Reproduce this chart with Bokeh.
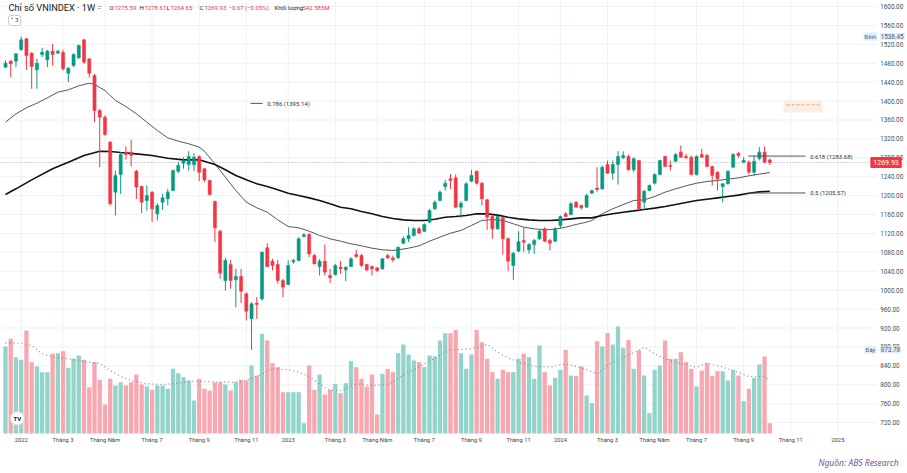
import pandas as pd
from bokeh.plotting import figure
from bokeh.models import Range1d, Label, ColumnDataSource, BoxAnnotation
from bokeh.core.properties import value
from bokeh.embed import file_html
from bokeh.resources import INLINE

# ---------------- data ----------------
FIRST_BAR = "2021-12-13"   # weekly bars, Monday dates
N_BARS = 147

opens = [1471.7, 1484.4, 1484.4, 1508.4, 1531.6, 1501.3, 1466.0, 1498.5, 1487.2, 1505.5,
         1501.3, 1502.7, 1459.0, 1475.2, 1491.4, 1529.5, 1489.3, 1454.1, 1380.0, 1366.0,
         1313.0, 1207.3, 1244.7, 1292.0, 1292.0, 1251.7, 1219.3, 1189.7, 1207.3, 1161.5,
         1186.2, 1193.2, 1210.8, 1251.7, 1268.7, 1265.8, 1265.8, 1282.8, 1256.7, 1232.0,
         1187.6, 1124.8, 1020.5, 1054.4, 1022.0, 1029.0, 992.3, 939.4, 972.6, 981.7,
         1089.6, 1061.4, 1054.4, 1020.5, 1012.0, 1060.0, 1062.8, 1113.6, 1117.8, 1073.4,
         1050.1, 1061.4, 1031.1, 1033.2, 1048.7, 1043.0, 1050.1, 1075.5, 1073.4, 1054.4,
         1050.1, 1047.3, 1045.2, 1073.4, 1068.4, 1068.4, 1099.5, 1108.6, 1115.7, 1129.8,
         1124.8, 1143.9, 1172.0, 1189.7, 1219.3, 1235.5, 1237.6, 1175.6, 1189.7, 1230.6,
         1251.7, 1226.3, 1191.1, 1155.8, 1129.8, 1153.0, 1108.6, 1052.2, 1082.5, 1105.1,
         1085.4, 1096.6, 1108.6, 1129.8, 1105.1, 1103.7, 1136.8, 1161.5, 1160.1, 1186.2,
         1179.1, 1175.6, 1205.2, 1216.0, 1214.4, 1265.8, 1247.5, 1265.8, 1280.0, 1282.8,
         1254.6, 1274.3, 1186.2, 1210.8, 1226.3, 1244.7, 1282.8, 1263.7, 1272.9, 1292.0,
         1282.8, 1281.4, 1244.7, 1287.0, 1284.9, 1261.6, 1249.6, 1219.3, 1225.0, 1260.2,
         1289.8, 1270.8, 1270.8, 1249.6, 1278.5, 1292.0, 1275.59]
highs = [1485.8, 1487.0, 1501.4, 1536.45, 1533.0, 1503.4, 1489.3, 1512.6, 1508.4, 1521.0,
         1508.4, 1508.4, 1471.7, 1501.3, 1519.6, 1531.0, 1490.0, 1457.6, 1383.6, 1369.5,
         1315.2, 1253.0, 1292.0, 1304.0, 1318.0, 1254.6, 1221.4, 1221.4, 1209.4, 1184.0,
         1203.8, 1214.4, 1254.6, 1271.0, 1281.4, 1294.0, 1290.0, 1285.0, 1258.8, 1233.4,
         1189.7, 1127.7, 1068.4, 1064.2, 1045.2, 1045.2, 995.8, 974.7, 985.3, 1081.8,
         1099.5, 1066.3, 1064.2, 1024.0, 1062.8, 1066.3, 1112.2, 1120.6, 1120.6, 1076.9,
         1066.3, 1096.6, 1045.2, 1055.8, 1061.4, 1050.1, 1069.9, 1085.4, 1076.9, 1055.8,
         1052.2, 1048.7, 1068.4, 1076.9, 1073.4, 1092.4, 1113.6, 1133.3, 1133.3, 1133.3,
         1141.8, 1172.0, 1189.7, 1210.8, 1233.4, 1246.1, 1244.7, 1188.3, 1228.5, 1254.6,
         1253.0, 1228.5, 1193.2, 1158.0, 1158.0, 1155.8, 1112.2, 1080.4, 1124.8, 1133.3,
         1099.5, 1108.6, 1127.7, 1133.3, 1108.6, 1133.3, 1158.0, 1165.0, 1186.2, 1188.3,
         1181.2, 1203.8, 1212.2, 1260.0, 1263.7, 1274.3, 1274.3, 1294.0, 1294.0, 1287.0,
         1281.4, 1275.7, 1212.2, 1223.5, 1247.5, 1275.7, 1284.9, 1274.3, 1289.8, 1306.0,
         1288.4, 1284.9, 1284.9, 1299.0, 1288.4, 1263.7, 1251.7, 1226.3, 1253.0, 1289.8,
         1292.0, 1281.4, 1274.3, 1284.9, 1302.5, 1304.0, 1278.61]
lows = [1470.3, 1450.0, 1471.7, 1507.0, 1466.0, 1425.9, 1425.9, 1492.9, 1471.7, 1475.2,
        1500.0, 1464.7, 1440.0, 1471.7, 1489.3, 1478.8, 1450.0, 1355.4, 1260.2, 1327.0,
        1179.0, 1158.0, 1203.8, 1275.8, 1261.6, 1193.0, 1163.0, 1168.5, 1144.0, 1147.4,
        1170.0, 1179.1, 1209.4, 1247.5, 1256.7, 1253.0, 1251.7, 1230.6, 1228.5, 1200.3,
        1101.6, 1024.0, 999.4, 1003.0, 964.1, 972.6, 936.0, 873.78, 939.4, 978.2,
        1048.7, 1041.7, 1013.5, 985.3, 1010.0, 1055.8, 1061.4, 1112.2, 1070.0, 1054.4,
        1031.1, 1031.1, 1014.9, 1031.1, 1034.6, 1019.0, 1048.7, 1068.4, 1048.7, 1040.2,
        1031.1, 1038.1, 1043.0, 1066.3, 1059.3, 1066.3, 1098.1, 1101.6, 1113.6, 1119.2,
        1122.7, 1141.8, 1170.0, 1188.3, 1210.8, 1214.4, 1174.2, 1153.0, 1188.3, 1228.5,
        1223.5, 1179.1, 1127.7, 1108.6, 1127.7, 1075.5, 1040.2, 1022.0, 1080.4, 1080.4,
        1077.0, 1077.0, 1106.5, 1101.6, 1084.0, 1101.6, 1129.8, 1154.4, 1158.0, 1174.2,
        1170.0, 1174.2, 1203.8, 1208.0, 1212.2, 1246.1, 1233.4, 1223.5, 1277.8, 1253.0,
        1249.6, 1170.0, 1170.0, 1209.4, 1223.5, 1242.6, 1260.2, 1253.0, 1270.8, 1280.0,
        1277.8, 1242.6, 1242.6, 1280.0, 1260.2, 1221.4, 1210.8, 1186.2, 1223.5, 1258.8,
        1280.0, 1268.7, 1244.7, 1242.6, 1274.3, 1268.7, 1264.65]
closes = [1480.2, 1478.8, 1500.0, 1529.5, 1496.4, 1473.1, 1480.2, 1503.4, 1505.5, 1498.5,
          1505.5, 1468.2, 1469.6, 1498.5, 1517.5, 1482.3, 1459.0, 1380.0, 1366.0, 1329.3,
          1182.6, 1242.6, 1287.0, 1287.0, 1285.0, 1218.0, 1186.0, 1200.3, 1172.0, 1179.1,
          1195.4, 1207.3, 1253.0, 1263.7, 1274.3, 1282.8, 1281.4, 1249.6, 1233.4, 1202.4,
          1132.0, 1036.0, 1062.8, 1020.5, 1029.0, 998.0, 955.6, 971.2, 970.0, 1080.4,
          1050.1, 1052.2, 1020.5, 1006.4, 1052.2, 1062.8, 1108.6, 1117.1, 1076.9, 1055.8,
          1061.4, 1038.1, 1026.2, 1052.2, 1045.2, 1048.7, 1066.3, 1071.3, 1052.2, 1043.0,
          1045.2, 1041.7, 1066.3, 1068.4, 1064.2, 1091.0, 1108.6, 1115.7, 1129.8, 1120.6,
          1139.0, 1168.5, 1186.2, 1207.3, 1226.3, 1232.0, 1175.6, 1184.0, 1225.0, 1242.6,
          1226.3, 1193.2, 1154.4, 1129.8, 1155.8, 1108.6, 1061.4, 1078.3, 1102.5, 1101.6,
          1096.6, 1105.1, 1124.8, 1103.7, 1099.5, 1129.8, 1155.8, 1155.8, 1182.6, 1175.6,
          1174.2, 1200.3, 1210.8, 1213.0, 1260.2, 1247.5, 1265.8, 1282.8, 1284.9, 1254.6,
          1277.8, 1172.0, 1209.4, 1221.4, 1244.7, 1274.3, 1261.6, 1261.6, 1287.0, 1281.4,
          1280.0, 1244.7, 1282.8, 1281.4, 1261.6, 1242.6, 1235.5, 1225.0, 1251.7, 1287.0,
          1284.9, 1274.3, 1249.6, 1272.9, 1292.0, 1270.8, 1269.93]
volumes = [4585, 4990, 4022, 3882, 5428, 3759, 3531, 3232, 3232, 4198,
           4233, 4339, 3460, 3935, 4111, 3882, 2442, 3759, 2828, 1528,
           2881, 2530, 2705, 2530, 2705, 3109, 2582, 2477, 2301, 2530,
           2530, 2354, 3408, 3179, 2969, 2793, 1739, 2881, 2354, 2266,
           2705, 2705, 2582, 2266, 2705, 2828, 2793, 3584, 3057, 5253,
           4901, 3707, 3496, 2178, 2178, 2178, 2178, 545, 3584, 2301,
           3109, 2055, 2301, 2617, 2126, 2652, 3812, 3496, 2881, 2477,
           3109, 1001, 3144, 3408, 3232, 4233, 4690, 4163, 3847, 3759,
           3496, 4111, 4058, 4901, 5288, 5288, 5463, 4233, 3408, 4163,
           5463, 4813, 3935, 3232, 2881, 3355, 3232, 3232, 3935, 4198,
           4022, 2881, 4638, 3232, 2530, 2934, 3355, 4409, 3057, 3022,
           3531, 2003, 1599, 4866, 4585, 5288, 4690, 5639, 4514, 4936,
           3408, 4374, 3057, 1072, 3355, 3584, 4901, 3935, 3935, 4286,
           3759, 3408, 2477, 3320, 3707, 3022, 3285, 3285, 2793, 3355,
           3057, 1704, 2354, 2934, 3637, 4058, 542.585]   # millions

# moving averages read at sampled bars (bar index, value)
ma_thin_idx = [0, 2, 4, 6, 8, 10, 12, 14, 16, 17, 19, 21, 23, 25, 27, 29, 31, 33, 35, 37,
               38, 40, 42, 44, 46, 48, 50, 52, 54, 56, 58, 60, 62, 64, 66, 68, 70, 72, 74,
               75, 77, 79, 81, 83, 85, 87, 89, 91, 93, 95, 97, 99, 101, 103, 105, 107, 109,
               111, 112, 114, 116, 118, 120, 122, 124, 126, 128, 130, 132, 134, 136, 138,
               140, 142, 144, 146]
ma_thin_val = [1355.4, 1373.0, 1385.7, 1395.6, 1406.8, 1418.8, 1423.8, 1432.2, 1437.9, 1435.0,
               1422.4, 1401.2, 1388.5, 1373.0, 1355.4, 1337.7, 1322.2, 1315.2, 1309.6, 1302.5,
               1294.0, 1267.3, 1239.0, 1210.8, 1186.2, 1174.2, 1165.0, 1148.8, 1134.7, 1131.9,
               1124.8, 1115.7, 1108.6, 1103.7, 1098.0, 1093.8, 1088.9, 1085.4, 1084.0,
               1085.4, 1088.9, 1093.8, 1103.7, 1112.2, 1120.6, 1126.3, 1136.8, 1147.4, 1149.5,
               1147.4, 1140.4, 1133.3, 1129.8, 1127.7, 1129.1, 1133.3, 1139.0,
               1143.9, 1147.4, 1161.5, 1172.1, 1181.2, 1189.7, 1191.1, 1198.2, 1207.3, 1214.4,
               1220.7, 1226.3, 1229.9, 1232.0, 1234.8, 1237.6, 1241.9, 1245.4, 1248.9]
ma_thick_idx = [0, 2, 5, 9, 12, 15, 18, 20, 22, 25, 28, 31, 34, 37, 40, 42, 44, 46, 48, 50,
                52, 54, 56, 58, 60, 62, 64, 66, 68, 70, 72, 74, 76, 78, 80, 82, 84, 86, 88,
                90, 92, 94, 96, 98, 100, 102, 104, 106, 108, 110, 112, 114, 116, 118, 120,
                122, 124, 126, 128, 130, 132, 134, 136, 138, 140, 142, 144, 146]
ma_thick_val = [1202.4, 1214.4, 1233.4, 1256.7, 1270.8, 1284.9, 1294.0, 1293.3, 1291.2, 1288.4,
                1284.9, 1279.2, 1275.7, 1275.7, 1265.8, 1254.6, 1242.6, 1233.4, 1225.0, 1219.3,
                1212.3, 1205.2, 1200.3, 1195.3, 1189.7, 1182.6, 1175.6, 1172.1, 1166.4, 1161.5,
                1155.9, 1151.6, 1148.8, 1147.4, 1147.4, 1150.2, 1154.4, 1155.9, 1158.0,
                1161.5, 1161.5, 1158.7, 1154.4, 1150.9, 1148.8, 1147.4, 1147.4, 1148.8, 1150.9,
                1153.0, 1153.0, 1158.0, 1161.5, 1165.0, 1167.8, 1170.7, 1173.5, 1177.0, 1181.2,
                1185.5, 1189.7, 1192.5, 1195.3, 1198.2, 1201.0, 1205.2, 1208.0, 1209.4]
vol_ma_idx = [0, 3, 5, 7, 9, 12, 14, 16, 18, 20, 22, 24, 27, 30, 33, 36, 41, 45, 48, 51, 54,
              56, 58, 60, 62, 64, 67, 70, 73, 77, 81, 85, 89, 92, 95, 98, 101, 104, 107, 110,
              113, 115, 118, 121, 122, 124, 126, 129, 132, 134, 137, 139, 142, 145, 146]
vol_ma_val = [4760, 4760, 4638, 4198, 4022, 3935, 3847, 3759, 3707, 3320, 3004, 2793, 2617,
              2582, 2652, 2758, 2705, 2705, 3004, 3408, 3355, 3232, 3004, 2617, 2266, 2266,
              2617, 2530, 2582, 3232, 3812, 4409, 4462, 4690, 4111, 3759, 3531, 3496, 3672,
              3461, 3144, 3584, 4022, 4374, 4550, 4198, 3935, 3672, 3496, 3707, 3496, 3320,
              3004, 3004, 2793]

# Fibonacci levels drawn on the chart (bar index extent)
fib_names = ["0.786", "0.618", "0.5"]
fib_prices = [1395.14, 1283.68, 1205.57]
fib_start = [46.8, 141.9, 141.9]
fib_end = [49.1, 152.8, 152.8]

# pale price-range box
box_bars = [148.6, 156.1]
box_prices = [1376.0, 1401.0]
box_mid = 1392.0

last_close = 1269.93
peak_price = 1536.45
trough_price = 873.78

tick_dates = ["2022-01-03", "2022-02-28", "2022-04-25", "2022-06-27", "2022-08-29",
              "2022-10-31", "2022-12-26", "2023-02-27", "2023-04-24", "2023-06-26",
              "2023-08-28", "2023-10-30", "2023-12-25", "2024-02-26", "2024-04-29",
              "2024-06-24", "2024-08-26", "2024-10-28", "2024-12-30"]
tick_labels = ["2022", "Tháng 3", "Tháng Năm", "Tháng 7", "Tháng 9", "Tháng 11",
               "2023", "Tháng 3", "Tháng Năm", "Tháng 7", "Tháng 9", "Tháng 11",
               "2024", "Tháng 3", "Tháng Năm", "Tháng 7", "Tháng 9", "Tháng 11", "2025"]
price_ticks = list(range(720, 1601, 40))

# ---------------- layout constants ----------------
DAY_MS = 24 * 3600 * 1000
WEEK_MS = 7 * DAY_MS
base_ms = pd.Timestamp(FIRST_BAR).value // 10**6


def bx(i):
    return float(base_ms + i * WEEK_MS)


W, H = 907, 473
X_LEFT, X_RIGHT = -0.955, 172.3          # full figure width in bar units
CHART_RIGHT = 166.4                      # right edge of the plotting area (bars)
AXIS_LABEL_X = 167.1                     # price labels start
P_TOP, P_BOTTOM = 1612.7, 612.3          # full figure height in price units
CHART_BOTTOM = 697.0                     # bottom of plotting area (price units)
XLABEL_Y = 682.5
VOL_RANGE = (-2108, 22819)

dates = pd.date_range(FIRST_BAR, periods=N_BARS, freq="7D")
xs = [float(d.value // 10**6) for d in dates]
tick_ms = [float(pd.Timestamp(d).value // 10**6) for d in tick_dates]

UP, DOWN = "#089981", "#f23645"
VUP, VDOWN = "#93d4ca", "#f7a7af"
GRID = "#eff1f4"
FONT = "Roboto"

up = [c >= o for o, c in zip(opens, closes)]
body_top = [max(o, c) for o, c in zip(opens, closes)]
body_bot = [min(o, c) if abs(c - o) >= 1.8 else max(o, c) - 1.8 for o, c in zip(opens, closes)]

src = ColumnDataSource(dict(
    x=xs, o=opens, h=highs, l=lows, c=closes, top=body_top, bot=body_bot, vol=volumes,
    col=[UP if u else DOWN for u in up],
    vcol=[VUP if u else VDOWN for u in up],
))

p = figure(width=W, height=H, output_backend="svg", toolbar_location=None,
           x_range=Range1d(bx(X_LEFT), bx(X_RIGHT)), y_range=Range1d(P_BOTTOM, P_TOP),
           x_axis_location=None, y_axis_location=None, min_border=0)
p.extra_y_ranges = {"vol": Range1d(*VOL_RANGE)}
p.outline_line_color = None
p.background_fill_color = "white"
p.xgrid.visible = False
p.ygrid.visible = False

# grid lines restricted to plotting area
p.segment(x0=[bx(X_LEFT)] * len(price_ticks), y0=price_ticks,
          x1=[bx(CHART_RIGHT)] * len(price_ticks), y1=price_ticks,
          line_color=GRID, line_width=1)
p.segment(x0=tick_ms, y0=[CHART_BOTTOM] * len(tick_ms), x1=tick_ms,
          y1=[P_TOP] * len(tick_ms), line_color=GRID, line_width=1)

# volume
p.vbar(x="x", width=5.75 * DAY_MS, top="vol", bottom=0, fill_color="vcol",
       line_color=None, y_range_name="vol", source=src)
p.line(x=[bx(i) for i in vol_ma_idx], y=vol_ma_val, y_range_name="vol",
       line_color="#7f8ba0", line_width=1.2, line_dash="1 3")

# current price dotted line
p.segment(x0=[bx(X_LEFT)], y0=[last_close], x1=[bx(165.0)], y1=[last_close],
          line_color="#9aa0aa", line_dash="1 2", line_width=1)

# moving averages
p.line(x=[bx(i) for i in ma_thin_idx], y=ma_thin_val, line_color="#444444", line_width=0.9)
p.line(x=[bx(i) for i in ma_thick_idx], y=ma_thick_val, line_color="#111111", line_width=1.6)

# candles
p.segment(x0="x", y0="l", x1="x", y1="h", line_color="col", line_width=1, source=src)
p.vbar(x="x", width=4.2 * DAY_MS, top="top", bottom="bot", fill_color="col",
       line_color="col", line_width=0.5, source=src)

# fibonacci lines
p.segment(x0=[bx(s) for s in fib_start], y0=fib_prices, x1=[bx(e) for e in fib_end],
          y1=fib_prices, line_color="#555555", line_width=1)
p.text(x=[bx(e + 0.9) for e in fib_end], y=fib_prices,
       text=[f"{n} ({pr:.2f})" for n, pr in zip(fib_names, fib_prices)],
       text_font=value(FONT), text_font_size="6px", text_color="#333333",
       text_baseline="middle")

# pale price range box
p.add_layout(BoxAnnotation(left=bx(box_bars[0]), right=bx(box_bars[1]), bottom=box_prices[0],
                           top=box_prices[1], fill_color="#fdeee2", fill_alpha=1,
                           line_color=None, level="underlay"))
p.segment(x0=[bx(box_bars[0] + 0.6)], y0=[box_mid], x1=[bx(box_bars[1] - 0.6)], y1=[box_mid],
          line_color="#f2a26e", line_width=1, line_dash="3 2")

# ---------------- axes (price scale on the right, time scale below) ----------------
p.text(x=[bx(AXIS_LABEL_X)] * len(price_ticks), y=price_ticks,
       text=[f"{v:.2f}" for v in price_ticks], text_font=value(FONT),
       text_font_size="6.3px", text_color="#4a4a4a", text_baseline="middle")
p.text(x=tick_ms, y=[XLABEL_Y] * len(tick_ms), text=tick_labels, text_font=value(FONT),
       text_font_size="5.8px", text_color="#444444", text_baseline="middle",
       text_align="center")

# right-scale tags
p.add_layout(Label(x=bx(168.2), y=last_close, text=f"{last_close:.2f}",
                   text_font=FONT, text_font_size="7px", text_color="white",
                   text_align="center", text_baseline="middle",
                   background_fill_color="#f23645", padding=3, border_radius=1))
for lbl_x, txt, pr, fs in [(163.9, "Đỉnh", peak_price, "5.8px"),
                           (167.0, f"{peak_price:.2f}", peak_price, "6.3px"),
                           (164.1, "Đáy", trough_price, "5.8px"),
                           (167.0, f"{trough_price:.2f}", trough_price, "6.3px")]:
    p.add_layout(Label(x=bx(lbl_x), y=pr, text=txt, text_font=FONT, text_font_size=fs,
                       text_color="#3b5a8c", text_baseline="middle",
                       background_fill_color="#e4edfa", padding=1))

# ---------------- top legend ----------------
LEG_Y = 1597.8
legend_items = [
    (8, "Chỉ số VNINDEX · 1W", "#131722", "9.2px"),
    (97, "=", "#6a6d78", "7px"),
    (109, "O", "#131722", "6px"), (114, "1275.59", "#f23645", "6px"),
    (139, "H", "#131722", "6px"), (144, "1278.61", "#f23645", "6px"),
    (166, "L", "#131722", "6px"), (170, "1264.65", "#f23645", "6px"),
    (199, "C", "#131722", "6px"), (204, "1269.93", "#f23645", "6px"),
    (228, "−0.67 (−0.05%)", "#f23645", "6px"),
    (274, "Khối lượng", "#131722", "6px"), (302, "542.585M", "#f23645", "6px"),
]
for lx, txt, colr, fs in legend_items:
    p.add_layout(Label(x=lx, y=LEG_Y, x_units="screen", text=txt, text_font=FONT,
                       text_font_size=fs, text_color=colr, text_baseline="middle"))
p.add_layout(Label(x=8, y=1570.4, x_units="screen", text="˅ 3", text_font="DejaVu Sans",
                   text_font_size="5.5px", text_color="#131722", text_baseline="middle",
                   border_line_color="#c9ccd3", background_fill_color="white",
                   padding=2, border_radius=2))

# TradingView mark
p.add_layout(Label(x=10, y=729.0, x_units="screen", text="TV", text_font=FONT,
                   text_font_size="6px", text_font_style="bold", text_color="#131722",
                   text_baseline="middle", background_fill_color="white",
                   border_line_color="#e0e0e0", padding=3, border_radius=7))

# source
p.add_layout(Label(x=bx(170.6), y=636.0, text="Nguồn: ABS Research", text_font="Noto Sans",
                   text_font_size="8.5px", text_font_style="italic", text_color="#6b58a6",
                   text_align="right", text_baseline="middle"))

open("out.html", "w").write(file_html(p, INLINE))
